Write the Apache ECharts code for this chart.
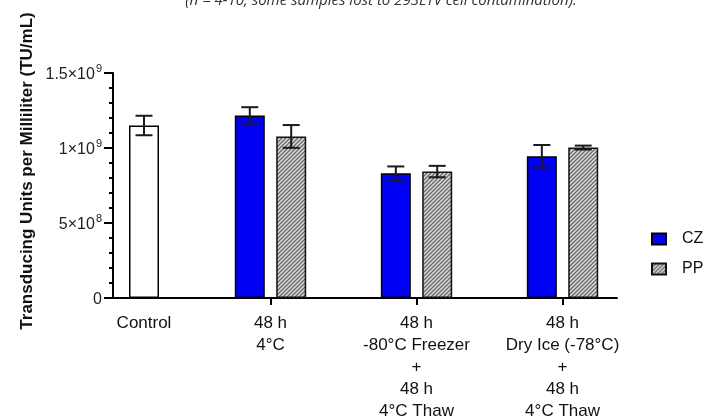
<!DOCTYPE html>
<html>
<head>
<meta charset="utf-8">
<script src="https://cdn.jsdelivr.net/npm/echarts@6/dist/echarts.min.js"></script>
<style>html,body{margin:0;padding:0;background:#fff}#c{width:708px;height:417px}</style>
</head>
<body>
<div id="c"></div>
<script>
// ---- data ----
const categories = ['Control', '48 h\n4°C', '48 h\n-80°C Freezer\n+\n48 h\n4°C Thaw', '48 h\nDry Ice (-78°C)\n+\n48 h\n4°C Thaw'];
const controlMean = [1.15e9];
const controlSD = [0.065e9];
const czMean = [1.217e9, 0.832e9, 0.945e9];   // for categories 1..3
const czSD = [0.055e9, 0.045e9, 0.075e9];
const ppMean = [1.077e9, 0.843e9, 1.003e9];
const ppSD = [0.076e9, 0.038e9, 0.013e9];
const yTickLabels = ['0', '5×10^8', '1×10^9', '1.5×10^9'];
const seriesNames = ['CZ', 'PP'];
const titleText = '(n = 4-10, some samples lost to 293LTV cell contamination).';
const yTitle = 'Transducing Units per Milliliter (TU/mL)';

// ---- style constants ----
const BAR_W = 30, BAR_GAP = 0.38, CAP = 17;
const OFF = (BAR_W + BAR_W * BAR_GAP) / 2;

const pat = document.createElement('canvas');
pat.width = 4; pat.height = 4;
const g = pat.getContext('2d');
g.fillStyle = '#dcdcdc'; g.fillRect(0, 0, 4, 4);
g.strokeStyle = '#6a6a6a'; g.lineWidth = 1.3;
[[0, 4, 4, 0], [-1, 1, 1, -1], [3, 5, 5, 3]].forEach(l => { g.beginPath(); g.moveTo(l[0], l[1]); g.lineTo(l[2], l[3]); g.stroke(); });
const hatch = { image: pat, repeat: 'repeat' };

function tickText(v) {
  const idx = Math.round(v / 5e8);
  const s = yTickLabels[idx];
  if (s === undefined) return '';
  const m = s.split('^');
  return m.length > 1 ? '{a|' + m[0] + '}{s|' + m[1] + '}' : '{a|' + s + '}';
}

const czData = czMean.map((v, i) => [i + 1, v]);
const ppData = ppMean.map((v, i) => [i + 1, v]);
const czErr = czMean.map((v, i) => [i + 1, v - czSD[i], v + czSD[i]]);
const ppErr = ppMean.map((v, i) => [i + 1, v - ppSD[i], v + ppSD[i]]);
const ctrlErr = controlMean.map((v, i) => [i, v - controlSD[i], v + controlSD[i]]);

function errRender(offset) {
  return function (params, api) {
    const x = api.value(0), lo = api.value(1), hi = api.value(2);
    const p1 = api.coord([x, hi]), p2 = api.coord([x, lo]);
    const cx = p1[0] + offset;
    const st = { stroke: '#1a1a1a', lineWidth: 2 };
    return { type: 'group', children: [
      { type: 'line', shape: { x1: cx, y1: p1[1], x2: cx, y2: p2[1] }, style: st },
      { type: 'line', shape: { x1: cx - CAP / 2, y1: p1[1], x2: cx + CAP / 2, y2: p1[1] }, style: st },
      { type: 'line', shape: { x1: cx - CAP / 2, y1: p2[1], x2: cx + CAP / 2, y2: p2[1] }, style: st }
    ]};
  };
}

const axisLine = { show: true, lineStyle: { color: '#000', width: 2 } };
const xLabel = { fontFamily: 'Liberation Sans, Arial', fontSize: 17, color: '#111', lineHeight: 22, margin: 14 };

const chart = echarts.init(document.getElementById('c'), null, { renderer: 'canvas' });
chart.setOption({
  animation: false,
  backgroundColor: '#fff',
  grid: [
    { left: 113, top: 73, width: 62, height: 225, outerBoundsMode: 'none', containLabel: false },
    { left: 175, top: 73, width: 442, height: 225, outerBoundsMode: 'none', containLabel: false }
  ],
  xAxis: [
    { gridIndex: 0, type: 'category', data: [categories[0]], axisLine: axisLine,
      axisTick: { alignWithLabel: true, length: 7, lineStyle: { color: '#000', width: 2 } },
      axisLabel: xLabel },
    { gridIndex: 1, type: 'value', min: 0.346, max: 3.373, axisLine: axisLine, splitLine: { show: false },
      axisTick: { show: true, customValues: [1, 2, 3], length: 7, lineStyle: { color: '#000', width: 2 } },
      axisLabel: Object.assign({ customValues: [1, 2, 3], formatter: v => categories[Math.round(v)] || '' }, xLabel) }
  ],
  yAxis: [
    { gridIndex: 0, type: 'value', min: 0, max: 1.5e9, interval: 5e8, axisLine: axisLine,
      splitLine: { show: false },
      axisTick: { show: true, length: 9, lineStyle: { color: '#000', width: 2 } },
      minorTick: { show: true, splitNumber: 5, length: 4, lineStyle: { color: '#000', width: 2 } },
      axisLabel: { margin: 11, formatter: tickText, rich: {
        a: { fontFamily: 'Liberation Sans, Arial', fontSize: 16, color: '#222', lineHeight: 20, verticalAlign: 'bottom' },
        s: { fontFamily: 'Liberation Sans, Arial', fontSize: 11, color: '#222', lineHeight: 20, verticalAlign: 'top', padding: [0, 0, 0, 1] }
      } } },
    { gridIndex: 1, type: 'value', min: 0, max: 1.5e9, show: false }
  ],
  legend: {
    data: seriesNames, orient: 'vertical', left: 646, top: 225, icon: 'rect', itemWidth: 14, itemHeight: 11, itemGap: 12,
    textStyle: { fontFamily: 'Liberation Sans, Arial', fontSize: 16, color: '#111', lineHeight: 18, padding: [0, 0, 0, 11] }
  },
  graphic: [
    { type: 'text', x: 381, y: 1, style: { text: titleText, fontFamily: 'Open Sans', fontStyle: 'italic', fontSize: 15, fill: '#333', align: 'center', verticalAlign: 'middle' } },
    { type: 'text', x: 27, y: 171, rotation: Math.PI / 2, style: { text: yTitle, fontFamily: 'Liberation Sans, Arial', fontWeight: 'bold', fontSize: 17, fill: '#111', align: 'center', verticalAlign: 'middle' } }
  ],
  series: [
    { name: 'Control', type: 'bar', xAxisIndex: 0, yAxisIndex: 0, barWidth: BAR_W, data: controlMean,
      itemStyle: { color: '#fff', borderColor: '#000', borderWidth: 1.5 } },
    { type: 'custom', xAxisIndex: 0, yAxisIndex: 0, renderItem: errRender(0), data: ctrlErr, z: 5 },
    { name: 'CZ', type: 'bar', xAxisIndex: 1, yAxisIndex: 1, barWidth: BAR_W, barGap: (BAR_GAP * 100) + '%', data: czData,
      itemStyle: { color: '#0000f5', borderColor: '#000', borderWidth: 1.5 } },
    { name: 'PP', type: 'bar', xAxisIndex: 1, yAxisIndex: 1, barWidth: BAR_W, barGap: (BAR_GAP * 100) + '%', data: ppData,
      itemStyle: { color: hatch, borderColor: '#111', borderWidth: 1.5 } },
    { type: 'custom', xAxisIndex: 1, yAxisIndex: 1, renderItem: errRender(-OFF), data: czErr, z: 5 },
    { type: 'custom', xAxisIndex: 1, yAxisIndex: 1, renderItem: errRender(OFF), data: ppErr, z: 5 }
  ]
});
</script>
</body>
</html>
